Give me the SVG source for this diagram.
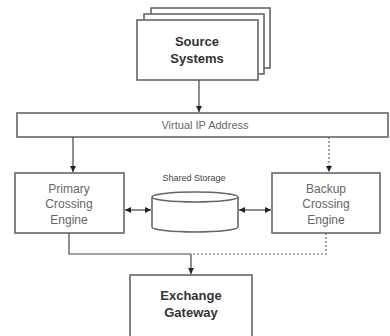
<svg xmlns="http://www.w3.org/2000/svg" width="390" height="336" viewBox="0 0 390 336">
<style>
.box{fill:#fff;stroke:#666;stroke-width:1.6}
.ln{fill:none;stroke:#444;stroke-width:1.2}
.dash{fill:none;stroke:#666;stroke-width:1.2;stroke-dasharray:2,2}
.t{font-family:"Liberation Sans",Arial,sans-serif;font-size:12px;fill:#666;text-anchor:middle}
.b{font-family:"Liberation Sans",Arial,sans-serif;font-size:13px;font-weight:bold;fill:#333;text-anchor:middle}
.s{font-family:"Liberation Sans",Arial,sans-serif;font-size:9px;fill:#444;text-anchor:middle}
</style>
<defs>
<marker id="ah" viewBox="0 0 10 10" refX="10" refY="5" markerWidth="5" markerHeight="5" orient="auto-start-reverse">
<path d="M0,0 L10,5 L0,10 z" fill="#222"/>
</marker>
</defs>
<g id="source">
<rect class="box" x="151" y="8" width="119" height="60"/>
<rect class="box" x="144" y="14" width="120" height="60"/>
<rect class="box" x="137" y="20" width="121" height="60"/>
<text class="b" x="197" y="46">Source</text>
<text class="b" x="197" y="63">Systems</text>
</g>
<g id="vip">
<rect class="box" x="17" y="113" width="371" height="24"/>
<text class="t" x="205" y="129" style="font-size:11px">Virtual IP Address</text>
</g>
<g id="primary">
<rect class="box" x="15" y="173" width="109" height="60"/>
<text class="t" x="69" y="193">Primary</text>
<text class="t" x="69" y="208">Crossing</text>
<text class="t" x="69" y="224">Engine</text>
</g>
<g id="backup">
<rect class="box" x="272" y="173" width="108" height="60"/>
<text class="t" x="326" y="193">Backup</text>
<text class="t" x="326" y="208">Crossing</text>
<text class="t" x="326" y="224">Engine</text>
</g>
<g id="storage">
<text class="s" x="194" y="181">Shared Storage</text>
<path class="box" d="M152,197 L152,227 A43,5 0 0 0 238,227 L238,197"/>
<ellipse class="box" cx="195" cy="197" rx="43" ry="5"/>
</g>
<g id="gateway">
<rect class="box" x="130" y="275" width="122" height="70"/>
<text class="b" x="191" y="300">Exchange</text>
<text class="b" x="191" y="317">Gateway</text>
</g>
<g id="connectors">
<line class="ln" x1="199" y1="80" x2="199" y2="112" marker-end="url(#ah)"/>
<line class="ln" x1="73" y1="137" x2="73" y2="172" marker-end="url(#ah)"/>
<line class="dash" x1="329" y1="137" x2="329" y2="172" marker-end="url(#ah)"/>
<line class="ln" x1="125" y1="210" x2="151" y2="210" marker-start="url(#ah)" marker-end="url(#ah)"/>
<line class="ln" x1="239" y1="210" x2="271" y2="210" marker-start="url(#ah)" marker-end="url(#ah)"/>
<polyline class="ln" points="69,233 69,254 191,254"/>
<line class="ln" x1="191" y1="254" x2="191" y2="274" marker-end="url(#ah)"/>
<polyline class="dash" points="326,233 326,254 192,254"/>
</g>
</svg>
